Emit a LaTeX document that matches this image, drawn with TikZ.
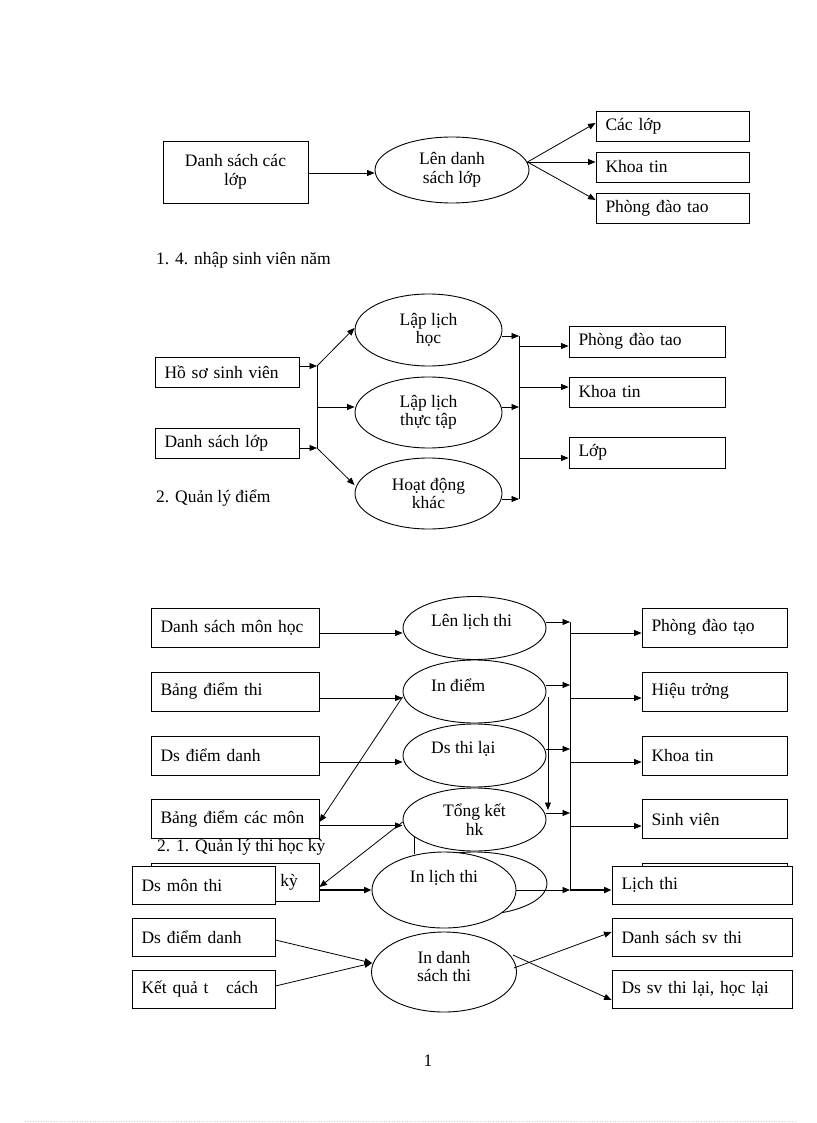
\documentclass[tikz,border=0pt]{standalone}
\usepackage{fontspec}
\setmainfont{Liberation Serif}
\usetikzlibrary{arrows.meta,shapes.geometric}
\begin{document}
\begin{tikzpicture}[x=1pt,y=-1pt,
  every node/.append style={font=\fontsize{17.5}{18.5}\selectfont},
  box/.style={draw,line width=0.9pt,fill=white,rectangle,inner xsep=9.5pt,inner ysep=0pt,align=left},
  cbox/.style={draw,line width=0.9pt,fill=white,rectangle,inner sep=0pt,align=center},
  ell/.style={draw,line width=0.9pt,fill=white,ellipse,inner sep=0pt,align=center},
  txt/.style={inner sep=0pt,align=left},
  arr/.style={line width=0.8pt,-{Triangle[length=7.5pt,width=6pt]}},
  tharr/.style={line width=1.8pt,-{Triangle[length=7.5pt,width=6pt]}},
  ln/.style={line width=0.8pt}]
\useasboundingbox (0,0) rectangle (816,1123);

% ---------- Section 1 ----------
\node[cbox,minimum width=145pt,minimum height=62pt] (A1) at (235.5,172) {Danh sách các\\lớp};
\node[ell,minimum width=154pt,minimum height=66pt] (A2) at (452,170) {Lên danh\\sách lớp};
\node[box,text width=134pt,minimum height=30pt] (A3) at (672.5,126) {Các lớp};
\node[box,text width=134pt,minimum height=30pt] (A4) at (672.5,167) {Khoa tin};
\node[box,text width=134pt,minimum height=30pt] (A5) at (672.5,208) {Phòng đào tao};
\draw[arr] ([yshift=-1pt]A1.east) -- ([yshift=-3pt]A2.west);
\coordinate (a2o) at ([xshift=-2pt,yshift=8pt]A2.east);
\draw[arr] (a2o) -- ([yshift=3pt]A3.west);
\draw[arr] (a2o) -- ([yshift=5pt]A4.west);
\draw[arr] (a2o) -- ([yshift=8pt]A5.west);
\node[txt,anchor=west] (C1) at (156,260) {1. 4. nhập sinh viên năm};

% ---------- Section 2 ----------
\node[box,text width=125pt,minimum height=30pt] (B1) at (227,372) {Hồ sơ sinh viên};
\node[box,text width=125pt,minimum height=30pt] (B2) at (227,443) {Danh sách lớp};
\node[ell,minimum width=147pt,minimum height=72pt] (B3) at (428.5,330) {Lập lịch\\học};
\node[ell,minimum width=147pt,minimum height=71pt] (B4) at (428.5,412.5) {Lập lịch\\thực tập};
\node[ell,minimum width=147pt,minimum height=71pt] (B5) at (428.5,493.5) {Hoạt động\\khác};
\node[box,text width=137pt,minimum height=31pt] (B6) at (647,341.5) {Phòng đào tao};
\node[box,text width=137pt,minimum height=30pt] (B7) at (647,392) {Khoa tin};
\node[box,text width=137pt,minimum height=31pt] (B8) at (647,452.5) {Lớp};

\coordinate (J1t) at (317,366);
\coordinate (J1b) at (317,448);
\draw[ln] (J1t) -- (J1b);
\coordinate (b1o) at ([yshift=6pt]B1.east);
\coordinate (b2o) at ([yshift=-5pt]B2.east);
\draw[arr] (b1o) -- (b1o -| J1t);
\draw[arr] (b2o) -- (b2o -| J1t);
\draw[arr] (J1t) -- ([yshift=2pt]B3.west);
\coordinate (b4i) at ([yshift=5.5pt]B4.west);
\draw[arr] (b4i -| J1t) -- (b4i);
\draw[arr] (J1b) -- ([yshift=8.5pt]B5.west);

\coordinate (J2t) at (519,336);
\coordinate (J2b) at (519,499);
\draw[ln] (J2t) -- (J2b);
\draw[arr] ([yshift=-6pt]B3.east) -- (J2t);
\coordinate (b4o) at ([yshift=5.5pt]B4.east);
\draw[arr] (b4o) -- (b4o -| J2t);
\draw[arr] ([yshift=-5.5pt]B5.east) -- (J2b);
\coordinate (b6i) at ([yshift=-4.5pt]B6.west);
\coordinate (b7i) at ([yshift=5pt]B7.west);
\coordinate (b8i) at ([yshift=-5.5pt]B8.west);
\draw[arr] (b6i -| J2t) -- (b6i);
\draw[arr] (b7i -| J2t) -- (b7i);
\draw[arr] (b8i -| J2t) -- (b8i);
\node[txt,anchor=west] (C2) at (156,498) {2. Quản lý điểm};

% ---------- Section 3 ----------
\node[box,text width=149pt,minimum height=39pt] (L1) at (235,627.5) {Danh sách môn học};
\node[box,text width=149pt,minimum height=39pt] (L2) at (235,691.5) {Bảng điểm thi};
\node[box,text width=149pt,minimum height=39pt] (L3) at (235,755.5) {Ds điểm danh};
\node[box,text width=149pt,minimum height=39pt] (L4) at (235,819) {Bảng điểm các môn};
\node[draw,line width=0.9pt,fill=white,minimum width=168pt,minimum height=38pt,inner sep=0pt] (L5) at (235,882.5) {};
\node[txt,anchor=east] (L5t) at (298,882) {kỳ};
\node[box,text width=124pt,minimum height=38pt] (L6) at (203.5,885) {Ds môn thi};
\node[box,text width=124pt,minimum height=38pt] (L7) at (203.5,937) {Ds điểm danh};
\node[box,text width=124pt,minimum height=38pt] (L8) at (203.5,989) {Kết quả t~~ cách};

\node[ell,minimum width=143pt,minimum height=63pt] (M1) at (474.5,628) {};
\node[ell,minimum width=143pt,minimum height=63pt] (M2) at (474.5,691.5) {};
\node[ell,minimum width=143pt,minimum height=63pt] (M3) at (474.5,755.5) {};
\node[ell,minimum width=143pt,minimum height=63pt] (M4) at (474.5,819.5) {Tổng kết\\hk};
\node[ell,minimum width=145pt,minimum height=63pt] (M5) at (474.5,883.5) {};
\node[txt,anchor=west] (M1t) at (431,622) {Lên lịch thi};
\node[txt,anchor=west] (M2t) at (431,685) {In điểm};
\node[txt,anchor=west] (M3t) at (431,749) {Ds thi lại};
\draw[ln] (414,837) -- (414,854);
\node[ell,minimum width=144pt,minimum height=76pt] (M6) at (444,890) {};
\node[txt] (M6t) at (444,878) {In lịch thi};
\node[ell,minimum width=145pt,minimum height=80pt] (M7) at (444,972) {};
\node[txt,align=center] (M7t) at (444,966.5) {In danh\\sách thi};

\node[box,text width=126pt,minimum height=39pt] (R1) at (714.5,627.5) {Phòng đào tạo};
\node[box,text width=126pt,minimum height=39pt] (R2) at (714.5,691.5) {Hiệu trởng};
\node[box,text width=126pt,minimum height=39pt] (R3) at (714.5,755.5) {Khoa tin};
\node[box,text width=126pt,minimum height=39pt] (R4) at (714.5,819) {Sinh viên};
\node[draw,line width=0.9pt,fill=white,minimum width=145pt,minimum height=39pt,inner sep=0pt] (R5) at (714.5,882.5) {};
\node[box,text width=161pt,minimum height=38pt] (R6) at (702,885) {Lịch thi};
\node[box,text width=161pt,minimum height=38pt] (R7) at (702,937) {Danh sách sv thi};
\node[box,text width=161pt,minimum height=38pt] (R8) at (702,989) {Ds sv thi lại, học lại};

% inputs
\draw[arr] ([yshift=-5.5pt]L1.east) -- ([yshift=-5pt]M1.west);
\draw[arr] ([yshift=-6.5pt]L2.east) -- ([yshift=-6.5pt]M2.west);
\draw[arr] ([yshift=-6.5pt]L3.east) -- ([yshift=-6.5pt]M3.west);
\draw[arr] ([yshift=-6.5pt]L4.east) -- ([yshift=-6pt]M4.west);
\draw[arr] ([yshift=-5.5pt]M2.west) -- ([yshift=-3pt]L4.east);
\draw[arr] ([yshift=-2.5pt]M4.west) -- ([yshift=-4.5pt]L5.east);
\draw[tharr] ([yshift=-7.5pt]L5.east) -- (M6.west);

% collector
\coordinate (colT) at (570,622);
\coordinate (colB) at (570,890);
\draw[ln] (colT) -- (colB);
\draw[arr] ([yshift=6pt]M1.east) -- (colT);
\coordinate (m2o) at ([yshift=6.5pt]M2.east);
\coordinate (m3o) at ([yshift=6.5pt]M3.east);
\coordinate (m4o) at ([yshift=6.5pt]M4.east);
\draw[arr] (m2o) -- (m2o -| colT);
\draw[arr] (m3o) -- (m3o -| colT);
\draw[arr] (m4o) -- (m4o -| colT);
\draw[arr] (M6.east) -- (colB);
\draw[tharr] (colB) -- (colB -| R6.west);
\coordinate (r1i) at ([yshift=-5.5pt]R1.west);
\coordinate (r2i) at ([yshift=-6.5pt]R2.west);
\coordinate (r3i) at ([yshift=-6.5pt]R3.west);
\coordinate (r4i) at ([yshift=-7pt]R4.west);
\draw[arr] (r1i -| colT) -- (r1i);
\draw[arr] (r2i -| colT) -- (r2i);
\draw[arr] (r3i -| colT) -- (r3i);
\draw[arr] (r4i -| colT) -- (r4i);

% down arrow at right of ellipses
\coordinate (v1) at ([xshift=1.5pt,yshift=-5.5pt]M2.east);
\coordinate (v2) at ([xshift=1.5pt,yshift=9.5pt]M4.east);
\draw[arr] (v1) -- (v2);

% bottom group
\coordinate (m7i) at ([xshift=1pt,yshift=9pt]M7.west);
\draw[arr] ([yshift=-3pt]L7.east) -- (m7i);
\draw[arr] ([yshift=3pt]L8.east) -- (m7i);
\draw[arr] ([xshift=-3pt,yshift=4pt]M7.east) -- ([yshift=5pt]R7.west);
\draw[arr] ([xshift=-4pt,yshift=17pt]M7.east) -- ([yshift=-11pt]R8.west);

\node[txt,anchor=west] (C3) at (157,847) {2. 1. Quản lý thi học kỳ};
\node[txt] (pg) at (428,1061) {1};
\draw[gray!35,dotted,line width=0.6pt] (25,1121) -- (795,1121);
\end{tikzpicture}
\end{document}
